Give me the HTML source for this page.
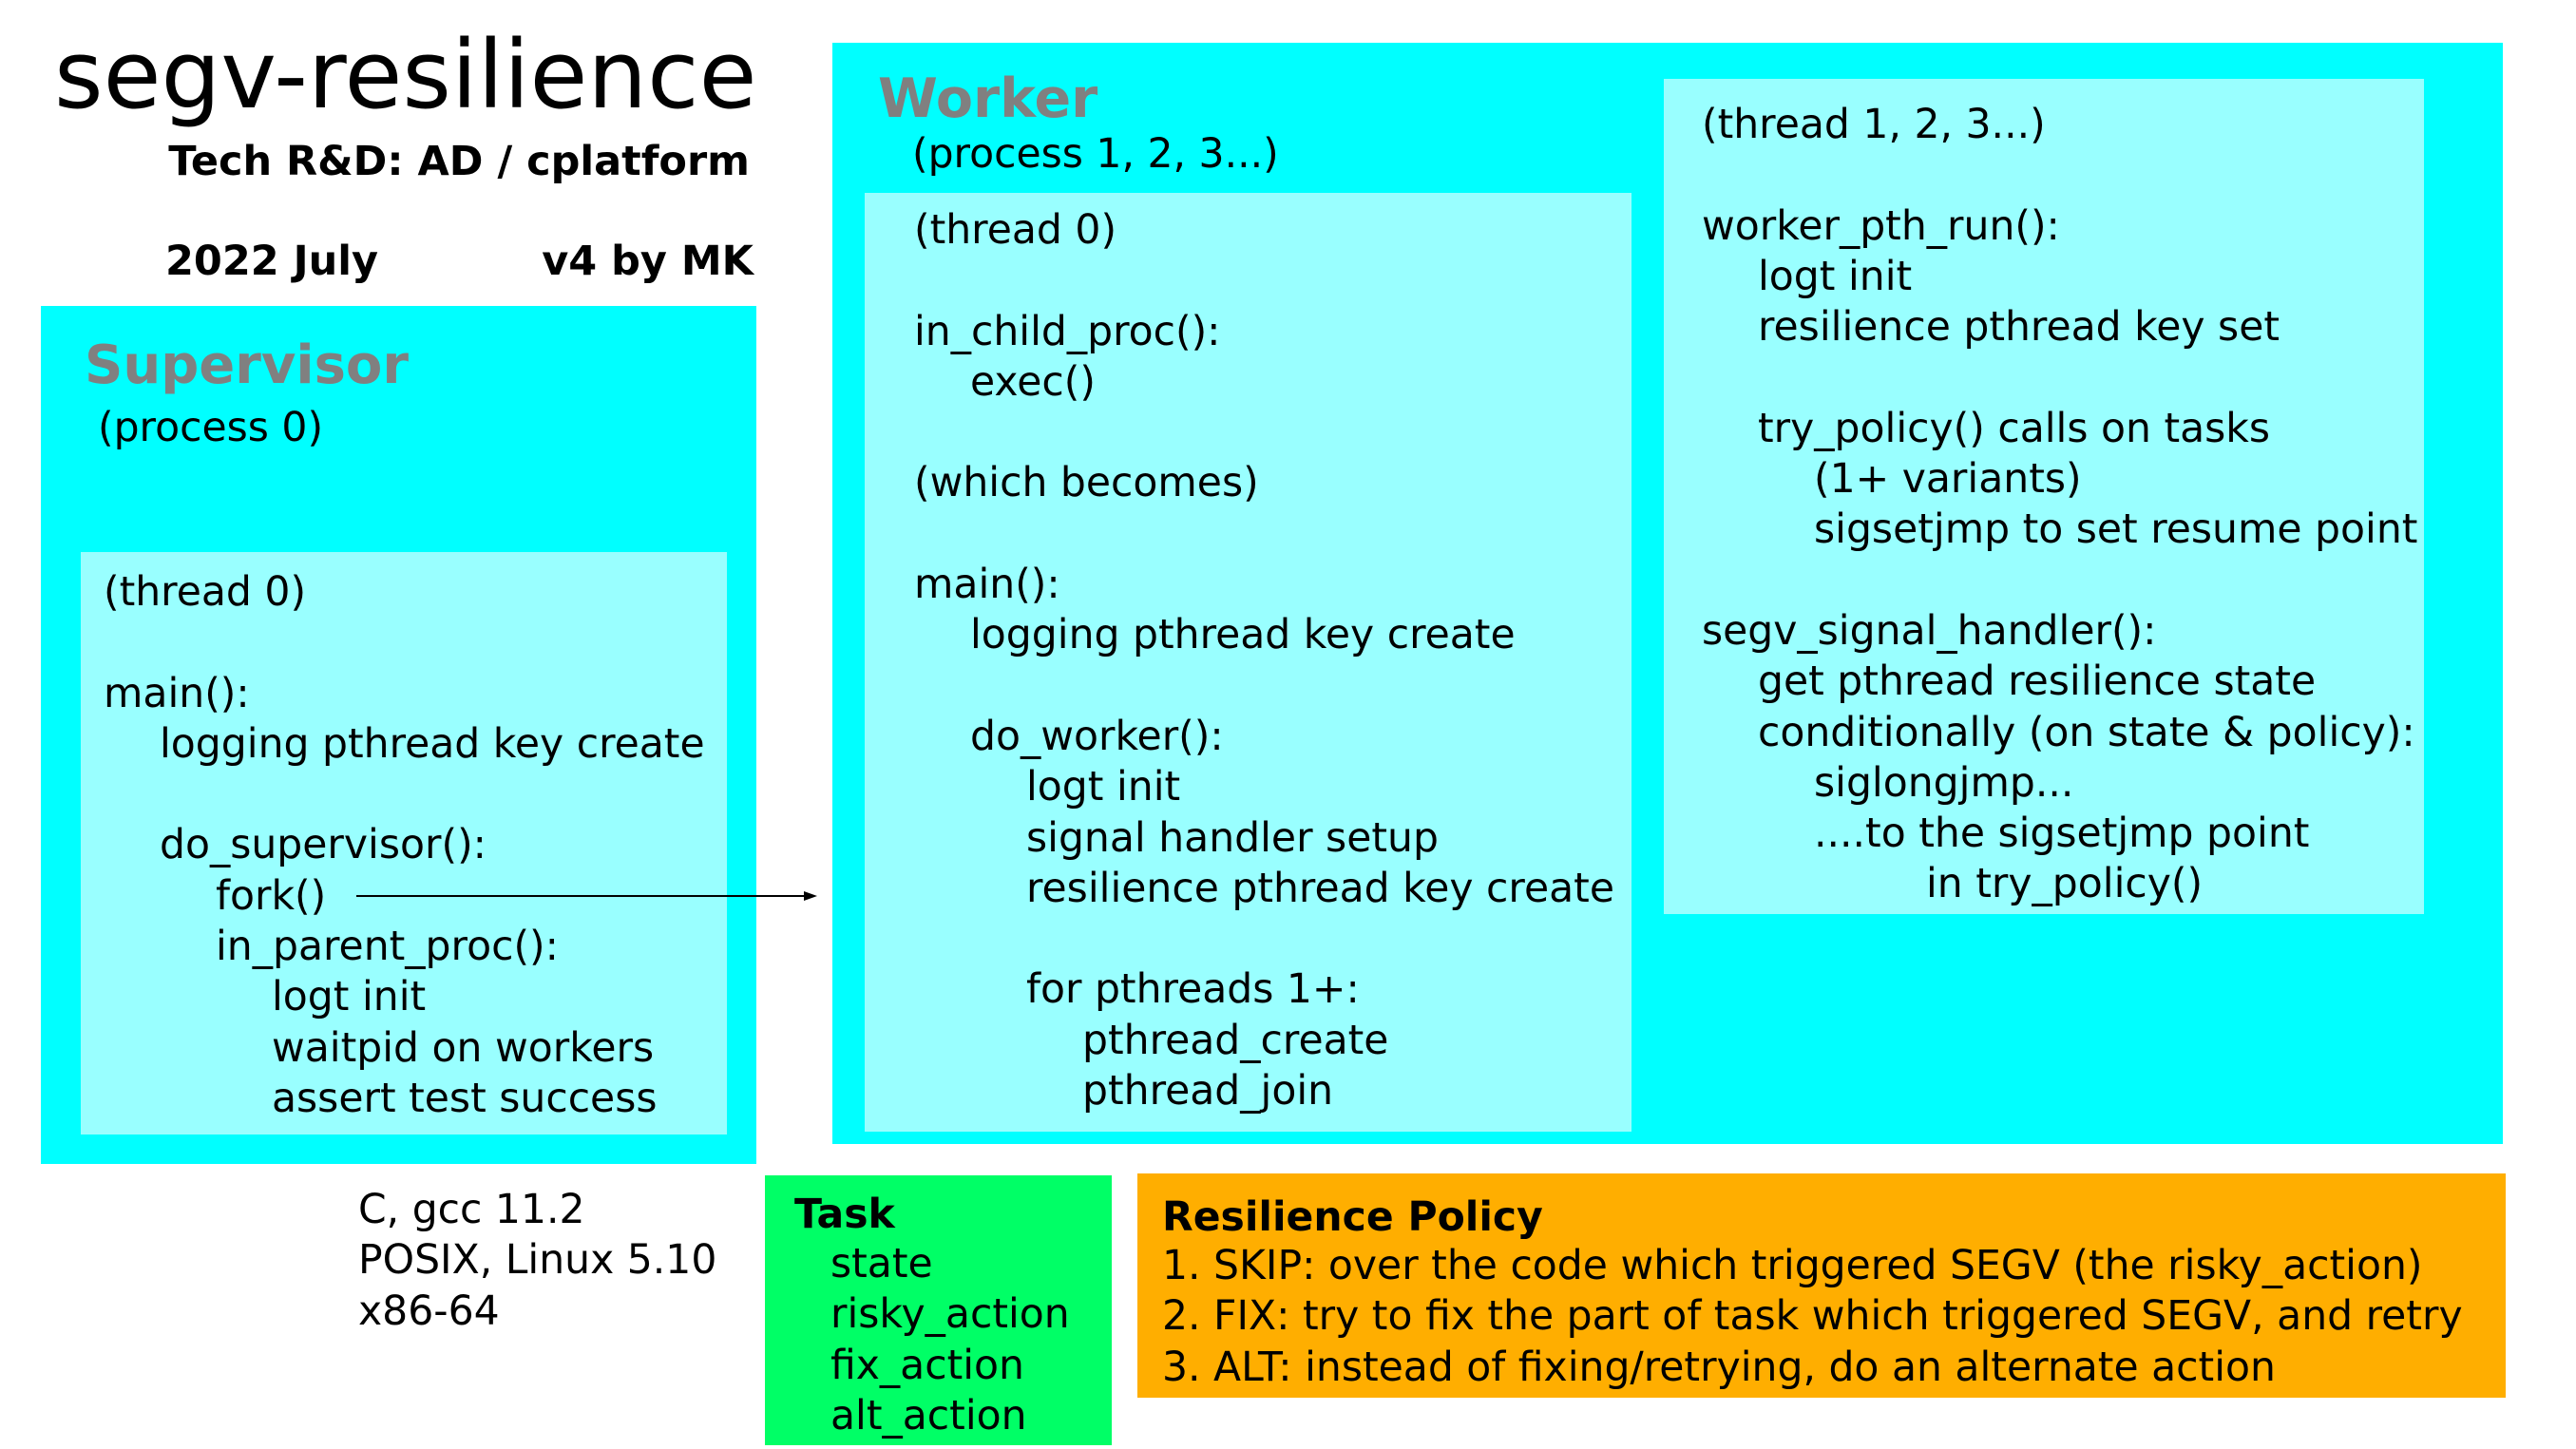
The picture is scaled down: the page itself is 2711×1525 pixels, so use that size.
<!DOCTYPE html>
<html><head><meta charset="utf-8"><style>
body{margin:0;width:2711px;height:1525px;background:#fff;position:relative;overflow:hidden;font-family:"DejaVu Sans","Liberation Sans",sans-serif;color:#000}
.b{position:absolute}
.t{position:absolute;white-space:pre;font-size:42.5px;line-height:53.3px}
.i1,.i2,.i3,.i4{display:inline-block}
.i1{width:59px}.i2{width:118px}.i3{width:177px}.i4{width:236px}
</style></head><body>
<div class="b" style="left:43px;top:322px;width:753px;height:903px;background:#00ffff"></div>
<div class="b" style="left:85px;top:581px;width:680px;height:613px;background:#99ffff"></div>
<div class="b" style="left:876px;top:45px;width:1758px;height:1159px;background:#00ffff"></div>
<div class="b" style="left:910px;top:203px;width:807px;height:988px;background:#99ffff"></div>
<div class="b" style="left:1751px;top:83px;width:800px;height:879px;background:#99ffff"></div>
<div class="b" style="left:805px;top:1237px;width:365px;height:284px;background:#00ff66"></div>
<div class="b" style="left:1197px;top:1235px;width:1440px;height:236px;background:#ffae00"></div>

<div class="t" style="left:57px;top:20px;font-size:99px;line-height:120px">segv-resilience</div>
<div class="t" style="right:1922px;top:144px;font-size:43px;font-weight:bold">Tech R&amp;D: AD / cplatform</div>
<div class="t" style="left:174px;top:249px;font-size:43px;font-weight:bold">2022 July</div>
<div class="t" style="right:1918px;top:249px;font-size:43px;font-weight:bold">v4 by MK</div>

<div class="t" style="left:89px;top:350px;font-size:56px;line-height:70px;font-weight:bold;color:#808080">Supervisor</div>
<div class="t" style="left:103px;top:424px">(process 0)</div>
<div class="t" style="left:109px;top:597px">(thread 0)

main():
<span class="i1"></span>logging pthread key create

<span class="i1"></span>do_supervisor():
<span class="i2"></span>fork()
<span class="i2"></span>in_parent_proc():
<span class="i3"></span>logt init
<span class="i3"></span>waitpid on workers
<span class="i3"></span>assert test success</div>

<div class="t" style="left:924px;top:69px;font-size:57px;line-height:70px;font-weight:bold;color:#808080">Worker</div>
<div class="t" style="left:960px;top:136px">(process 1, 2, 3...)</div>
<div class="t" style="left:962px;top:216px">(thread 0)

in_child_proc():
<span class="i1"></span>exec()

(which becomes)

main():
<span class="i1"></span>logging pthread key create

<span class="i1"></span>do_worker():
<span class="i2"></span>logt init
<span class="i2"></span>signal handler setup
<span class="i2"></span>resilience pthread key create

<span class="i2"></span>for pthreads 1+:
<span class="i3"></span>pthread_create
<span class="i3"></span>pthread_join</div>
<div class="t" style="left:1791px;top:105px">(thread 1, 2, 3...)

worker_pth_run():
<span class="i1"></span>logt init
<span class="i1"></span>resilience pthread key set

<span class="i1"></span>try_policy() calls on tasks
<span class="i2"></span>(1+ variants)
<span class="i2"></span>sigsetjmp to set resume point

segv_signal_handler():
<span class="i1"></span>get pthread resilience state
<span class="i1"></span>conditionally (on state &amp; policy):
<span class="i2"></span>siglongjmp...
<span class="i2"></span>....to the sigsetjmp point
<span class="i4"></span>in try_policy()</div>

<svg class="b" style="left:0;top:0" width="2711" height="1525">
<line x1="375" y1="943" x2="850" y2="943" stroke="#000" stroke-width="2"/>
<polygon points="860,943 846,938 846,948" fill="#000"/>
</svg>

<div class="t" style="left:377px;top:1247px">C, gcc 11.2
POSIX, Linux 5.10
x86-64</div>
<div class="t" style="left:836px;top:1252px;font-weight:bold">Task</div>
<div class="t" style="left:874px;top:1304px">state
risky_action
fix_action
alt_action</div>
<div class="t" style="left:1223px;top:1255px;font-weight:bold">Resilience Policy</div>
<div class="t" style="left:1223px;top:1306px">1. SKIP: over the code which triggered SEGV (the risky_action)
2. FIX: try to fix the part of task which triggered SEGV, and retry
3. ALT: instead of fixing/retrying, do an alternate action</div>
</body></html>
